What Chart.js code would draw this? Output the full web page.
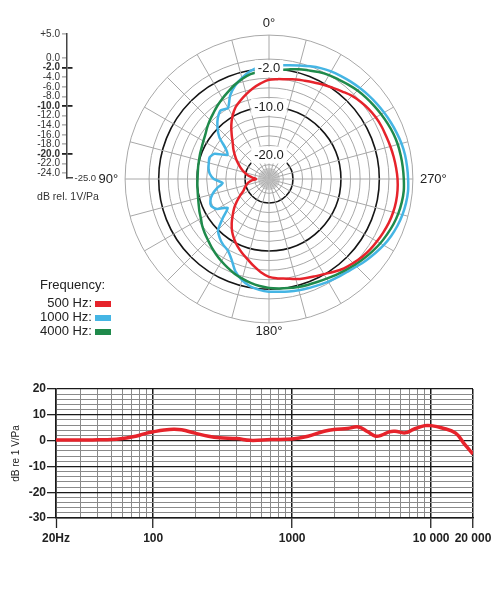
<!DOCTYPE html>
<html>
<head>
<meta charset="utf-8">
<script src="https://cdn.jsdelivr.net/npm/chart.js@4.4.1/dist/chart.umd.min.js"></script>
<style>
  body { margin: 0; width: 500px; height: 600px; background: #fff; position: relative; font-family: "Liberation Sans", Arial, sans-serif; color: #222; }
  canvas { position: absolute; }
  #polar { left: 54px; top: 15px; }
  #dbscale { left: 0; top: 20px; }
  #response { left: 0; top: 370px; }
  #legend-title { position: absolute; left: 40px; top: 277px; font-size: 13px; line-height: 16px; }
  #legend { position: absolute; left: 0; top: 296px; font-size: 13px; }
  .row { height: 14px; line-height: 14px; white-space: nowrap; }
  .row span.txt { display: inline-block; width: 92px; text-align: right; }
  .row span.sw { display: inline-block; width: 16px; height: 6px; margin-left: 3px; vertical-align: middle; }
</style>
</head>
<body>
<canvas id="dbscale" width="136" height="200"></canvas>
<canvas id="polar" width="430" height="326"></canvas>
<div id="legend-title">Frequency:</div>
<div id="legend"></div>
<canvas id="response" width="500" height="200"></canvas>
<script>
// Polar pattern, angle as printed on the chart (0 top, 90 left, 180 bottom, 270 right)
const POLAR_ANGLES = [
  0, 5, 10, 15, 20, 25, 30, 35, 40, 45, 50, 55, 60, 65, 70, 75, 80, 85,
  90, 95, 100, 105, 110, 115, 120, 125, 130, 135, 140, 145, 150, 155, 160, 165, 170, 175,
  180, 185, 190, 195, 200, 205, 210, 215, 220, 225, 230, 235, 240, 245, 250, 255, 260, 265,
  270, 275, 280, 285, 290, 295, 300, 305, 310, 315, 320, 325, 330, 335, 340, 345, 350, 355,
];

// dB values at each angle above
const RESP_500 = [
  -4.3, -5.0, -5.8, -6.7, -7.6, -8.5, -9.8, -11.3, -12.9, -14.3, -15.3, -16.3, -17.2, -18.1, -18.9, -19.7, -20.5, -21.5,
  -22.3, -21.3, -20.6, -20.1, -19.6, -19.1, -18.0, -16.8, -15.5, -14.3, -12.9, -11.6, -10.5, -9.5, -8.6, -7.7, -6.6, -5.5,
  -4.6, -4.2, -3.9, -3.4, -3.0, -2.6, -2.1, -1.4, -0.7, -0.2, 0.3, 0.7, 1.0, 1.3, 1.6, 1.8, 1.9, 1.9,
  1.8, 1.6, 1.4, 1.2, 1.0, 0.9, 0.7, 0.4, 0.0, -0.5, -1.2, -1.8, -2.3, -2.8, -3.2, -3.5, -3.9, -4.1,
];
const RESP_1000 = [
  -1.4, -1.6, -2.2, -3.2, -4.3, -5.8, -7.9, -7.5, -8.4, -9.8, -11.5, -14.0, -15.0, -12.5, -11.8, -12.0, -12.2, -12.6,
  -13.5, -15.3, -14.0, -12.8, -12.0, -11.7, -12.5, -14.5, -12.5, -10.0, -9.0, -8.3, -7.8, -6.5, -4.5, -3.2, -2.3, -1.8,
  -1.5, -1.4, -1.2, -1.0, -0.8, -0.6, -0.3, 0.0, 0.3, 0.8, 1.4, 2.0, 2.6, 3.1, 3.5, 3.8, 4.0, 4.1,
  4.0, 3.9, 3.8, 3.6, 3.3, 3.0, 2.7, 2.4, 2.1, 1.8, 1.5, 1.2, 0.9, 0.5, 0.0, -0.5, -0.9, -1.2,
];
const RESP_4000 = [
  -2.5, -2.6, -2.8, -3.4, -4.1, -4.9, -5.6, -6.3, -7.0, -7.6, -8.2, -8.8, -9.2, -9.5, -9.7, -9.9, -10.0, -10.1,
  -10.1, -10.0, -9.9, -9.7, -9.4, -9.0, -8.6, -8.0, -7.5, -7.0, -6.4, -5.8, -5.2, -4.6, -4.0, -3.5, -3.0, -2.6,
  -2.3, -2.1, -1.9, -1.7, -1.5, -1.3, -1.0, -0.6, -0.2, 0.3, 0.8, 1.3, 1.8, 2.2, 2.6, 2.9, 3.1, 3.2,
  3.1, 3.0, 2.9, 2.8, 2.6, 2.3, 2.0, 1.7, 1.4, 1.1, 0.7, 0.3, 0.0, -0.4, -0.9, -1.3, -1.8, -2.2,
];

const SERIES_NAMES = ["500 Hz:", "1000 Hz:", "4000 Hz:"];
const SERIES_COLORS = ["#e6232b", "#45b5e4", "#1f8a4b"];

// rings of the polar grid and the left dB scale
const RING_DB = [-25, -24, -22, -20, -18, -16, -14, -12, -10, -8, -6, -4, -2, 0, 5];
const RING_LABELED = [-2, -10, -20];
const SCALE_TICKS = [5, 0, -2, -4, -6, -8, -10, -12, -14, -16, -18, -20, -22, -24];
const CARDINALS = ["0°", "90°", "180°", "270°"];

// Frequency response
const FR_FREQ = [20, 30, 40, 50, 60, 70, 80, 90, 100, 120, 140, 160, 200, 250, 300, 400, 500, 700,
  1000, 1300, 1700, 2000, 2500, 3000, 3500, 4000, 4400, 5000, 5500, 6500, 7500, 9000, 10000, 12000, 15000, 17500, 20000];
const FR_DB = [0.2, 0.2, 0.3, 0.4, 0.8, 1.4, 2.1, 2.9, 3.4, 4.1, 4.4, 4.2, 2.9, 1.7, 1.1, 0.8, 0.1, 0.4,
  0.6, 1.7, 3.6, 4.3, 4.7, 5.3, 3.4, 1.7, 2.1, 3.4, 3.6, 3.0, 4.4, 5.8, 5.8, 4.9, 2.9, -1.6, -5.2];
const FREQ_TICKS = [20, 30, 40, 50, 60, 70, 80, 90, 100, 200, 300, 400, 500, 600, 700, 800, 900,
  1000, 2000, 3000, 4000, 5000, 6000, 7000, 8000, 9000, 10000, 20000];
const FREQ_LABELS = { 20: "20Hz", 100: "100", 1000: "1000", 10000: "10 000", 20000: "20 000" };
const FREQ_MAJOR = [100, 1000, 10000, 20000];

const FONT = "'Liberation Sans', Arial, sans-serif";
const CLEAR = "rgba(0,0,0,0)";

// tick value from a scriptable context (undefined outside a tick)
const tv = (ctx) => (ctx.tick ? ctx.tick.value : NaN);
const isRing = (ctx) => RING_LABELED.includes(tv(ctx));

// radar runs clockwise from the top, the printed angles run counter-clockwise
const clockwise = (arr) => arr.map((_, i) => arr[(arr.length - i) % arr.length]);
const cwAngles = clockwise(POLAR_ANGLES);

const polarChart = new Chart(document.getElementById("polar"), {
  type: "radar",
  data: {
    labels: cwAngles.map((a) => a + "°"),
    datasets: [RESP_500, RESP_1000, RESP_4000].map((d, i) => ({
      label: SERIES_NAMES[i],
      data: clockwise(d),
      borderColor: SERIES_COLORS[i],
      backgroundColor: SERIES_COLORS[i],
      borderWidth: 2.5,
      fill: false,
      pointRadius: 0,
      tension: i === 1 ? 0.2 : 0.35,
      order: [0, 2, 1][i],
    })),
  },
  options: {
    responsive: false,
    animation: false,
    plugins: { legend: { display: false }, tooltip: { enabled: false } },
    scales: {
      r: {
        min: -25,
        max: 5,
        afterBuildTicks: (s) => {
          s.ticks = RING_DB.map((v) => ({ value: v }));
        },
        grid: {
          circular: true,
          color: (ctx) => (isRing(ctx) ? "#151515" : "#a8a8a8"),
          lineWidth: (ctx) => (isRing(ctx) ? 1.6 : 1),
        },
        angleLines: {
          color: (ctx) => (cwAngles[ctx.index] % 15 === 0 ? "#a8a8a8" : "#c4c4c4"),
          lineWidth: 1,
          borderDash: (ctx) => (cwAngles[ctx.index] % 15 === 0 ? [] : [11, 400]),
        },
        pointLabels: {
          padding: (ctx) => (ctx.index === 0 ? -5 : ctx.index === 36 ? -7.5 : -1.5),
          color: "#222",
          font: (ctx) => ({ family: FONT, size: ctx.label ? 13 : 1 }),
          callback: (lbl) => (CARDINALS.includes(lbl) ? lbl : ""),
        },
        ticks: {
          z: 1,
          color: "#1a1a1a",
          font: { family: FONT, size: 13 },
          callback: (v) => (RING_LABELED.includes(v) ? v.toFixed(1) : ""),
          showLabelBackdrop: (ctx) => isRing(ctx),
          backdropColor: "#fff",
          backdropPadding: { left: 3, right: 3, top: 2, bottom: 2 },
        },
      },
    },
  },
});

// legend, text first then colour chip
const legendBox = document.getElementById("legend");
polarChart.data.datasets.forEach((ds) => {
  const row = document.createElement("div");
  row.className = "row";
  row.innerHTML = '<span class="txt">' + ds.label + '</span><span class="sw" style="background:' + ds.borderColor + '"></span>';
  legendBox.appendChild(row);
});

// dB scale next to the polar plot
new Chart(document.getElementById("dbscale"), {
  type: "line",
  data: { datasets: [] },
  options: {
    responsive: false,
    animation: false,
    layout: { padding: { top: 14, right: 0, bottom: 0, left: 0 } },
    plugins: {
      legend: { display: false },
      tooltip: { enabled: false },
      title: {
        display: true,
        text: "dB rel. 1V/Pa",
        position: "bottom",
        color: "#333",
        font: { family: FONT, size: 10.5, weight: "normal" },
        padding: { top: 4, bottom: 17 },
      },
    },
    scales: {
      x: {
        type: "linear",
        min: 0,
        max: 1,
        afterFit: (s) => { s.height = 8.4; },
        ticks: { display: false },
        grid: { display: false, drawTicks: false },
        border: { display: true, color: "#444", width: 1.5 },
      },
      y: {
        min: -25,
        max: 5,
        afterBuildTicks: (s) => {
          s.ticks = SCALE_TICKS.map((v) => ({ value: v }));
        },
        afterFit: (s) => { s.width = 67; },
        ticks: {
          autoSkip: false,
          padding: 2,
          color: "#333",
          callback: (v) => (v > 0 ? "+" : "") + v.toFixed(1),
          font: (ctx) => ({ family: FONT, size: 10, weight: isRing(ctx) ? "bold" : "normal" }),
        },
        grid: {
          color: (ctx) => (isRing(ctx) ? "#222" : CLEAR),
          lineWidth: 1.8,
          tickLength: 5,
          tickColor: (ctx) => (isRing(ctx) ? "#222" : "#888"),
          tickWidth: (ctx) => (isRing(ctx) ? 1.8 : 1),
        },
        border: { color: "#444", width: 1.5 },
      },
      y2: {
        position: "right",
        min: -25,
        max: 5,
        afterBuildTicks: (s) => { s.ticks = [{ value: -25 }]; },
        afterFit: (s) => { s.width = 63.5; },
        ticks: { padding: 2, color: "#333", font: { family: FONT, size: 9.5 }, callback: (v) => v.toFixed(1) },
        grid: { display: false, drawTicks: false },
        border: { display: false },
      },
    },
  },
});

// frequency response
new Chart(document.getElementById("response"), {
  type: "line",
  data: {
    datasets: [
      {
        label: "Response",
        data: FR_FREQ.map((f, i) => ({ x: f, y: FR_DB[i] })),
        borderColor: "#e6232b",
        borderWidth: 3.5,
        pointRadius: 0,
        fill: false,
        tension: 0.4,
      },
    ],
  },
  options: {
    responsive: false,
    animation: false,
    layout: { padding: { top: 19, right: 27, bottom: 0, left: 0 } },
    plugins: { legend: { display: false }, tooltip: { enabled: false } },
    scales: {
      x: {
        type: "logarithmic",
        min: 20,
        max: 20000,
        afterBuildTicks: (s) => {
          s.ticks = FREQ_TICKS.map((v) => ({ value: v }));
        },
        afterFit: (s) => { s.height = 52; },
        ticks: {
          autoSkip: false,
          maxRotation: 0,
          padding: 3,
          color: "#222",
          font: { family: FONT, size: 12, weight: "bold" },
          callback: (v) => FREQ_LABELS[v] || "",
        },
        grid: {
          color: (ctx) => (FREQ_MAJOR.includes(tv(ctx)) ? "#1a1a1a" : "#8a8a8a"),
          lineWidth: (ctx) => (FREQ_MAJOR.includes(tv(ctx)) ? 1.5 : 1),
          tickLength: 10,
          tickColor: (ctx) => (FREQ_LABELS[tv(ctx)] ? "#222" : CLEAR),
          tickWidth: 1.3,
        },
        border: { color: "#1a1a1a", width: 1.5 },
      },
      y: {
        min: -30,
        max: 20,
        afterFit: (s) => { s.width = 56; },
        ticks: {
          stepSize: 2,
          autoSkip: false,
          padding: 1,
          color: "#222",
          font: { family: FONT, size: 12, weight: "bold" },
          callback: (v) => (v % 10 === 0 ? String(v) : ""),
        },
        grid: {
          color: (ctx) => (tv(ctx) % 10 === 0 ? "#1a1a1a" : "#8a8a8a"),
          lineWidth: (ctx) => (tv(ctx) % 10 === 0 ? 1.3 : 1),
          tickLength: 9,
          tickColor: (ctx) => (tv(ctx) % 10 === 0 ? "#222" : CLEAR),
          tickWidth: 1.3,
        },
        border: { color: "#1a1a1a", width: 1.5 },
        title: {
          display: true,
          text: "dB re 1 V/Pa",
          color: "#222",
          font: { family: FONT, size: 10 },
          padding: { top: 10, bottom: 0 },
        },
      },
    },
  },
});
</script>
</body>
</html>
